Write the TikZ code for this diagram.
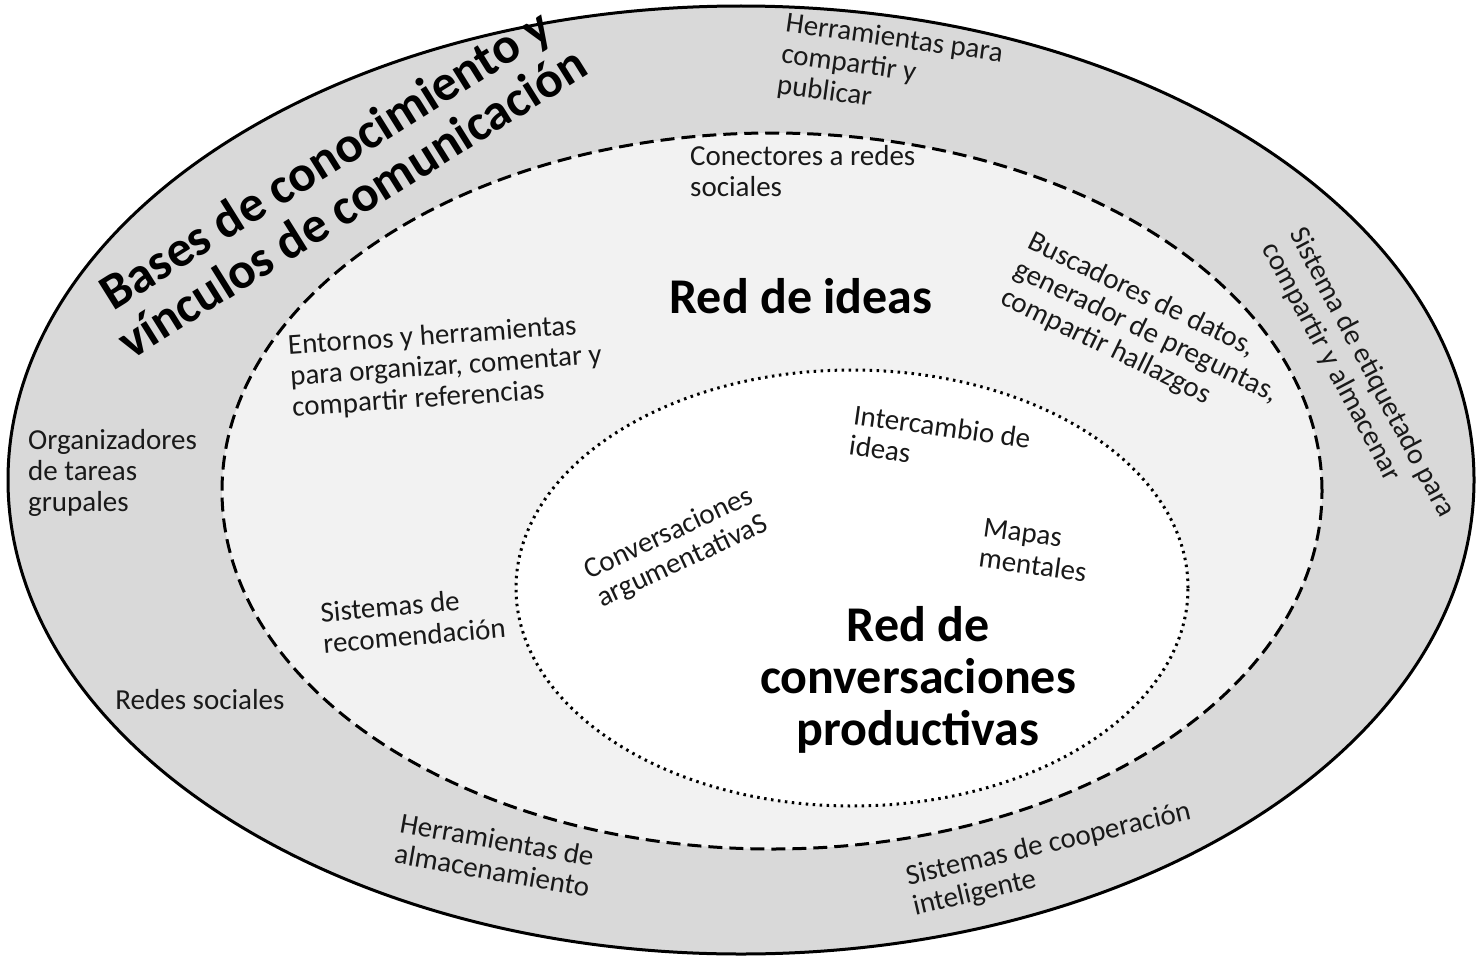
\documentclass[tikz,border=0pt]{standalone}
\usepackage{fontspec}
\setmainfont{Carlito}
\usetikzlibrary{shapes.geometric}

\begin{document}
\begin{tikzpicture}[x=1pt,y=-1pt,
  ring/.style={ellipse,draw=black,inner sep=0pt},
    outer ring/.style={ring,line width=3pt,fill=gray!30,minimum width=1466pt,minimum height=948pt},
    middle ring/.style={ring,line width=3pt,fill=gray!10,dash pattern=on 14pt off 7pt,minimum width=1100pt,minimum height=716pt},
    inner ring/.style={ring,line width=3pt,fill=white,dash pattern=on 2.5pt off 4.5pt,minimum width=672pt,minimum height=436pt},
    tool/.style={font=\fontsize{29}{31}\selectfont,align=left,inner sep=0pt,text=black!90},
    net/.style={font=\fontsize{50}{52}\selectfont\bfseries,align=center,inner sep=0pt},
    banner/.style={font=\fontsize{51}{51}\selectfont\bfseries,align=center,inner sep=0pt},
  ]
  \useasboundingbox (0,0) rectangle (1477,958);

  % rings
  \node[outer ring] (bases) at (741,480) {};
  \node[middle ring] (ideas) at (772,491) {};
  \node[inner ring] (conv) at (852,588) {};

  % outer ring
  \node[banner,rotate=32] (bases-title) at (338,180) {Bases de conocimiento y\\vínculos de comunicación};
  \node[tool,rotate=-8] (bases-publicar) at (890,70) {Herramientas para\\compartir  y\\publicar};
  \node[tool,rotate=-62] (bases-etiquetado) at (1358,380) {Sistema de etiquetado para\\compartir y almacenar};
  \node[tool,anchor=west] (bases-tareas) at (28,473) {Organizadores\\de tareas\\grupales};
  \node[tool] (bases-redes) at (200,700) {Redes sociales};
  \node[tool,rotate=-10] (bases-almacen) at (495,855) {Herramientas de\\almacenamiento};
  \node[tool,rotate=13] (bases-cooperacion) at (1052,860) {Sistemas de cooperación\\inteligente};

  % middle ring
  \node[net] (ideas-title) at (801,296) {Red de ideas};
  \node[tool,anchor=west] (ideas-conectores) at (690,171) {Conectores a redes\\sociales};
  \node[tool,rotate=-26] (ideas-buscadores) at (1146,332) {Buscadores de datos,\\generador de preguntas,\\compartir hallazgos};
  \node[tool,rotate=4] (ideas-entornos) at (446,367) {Entornos y herramientas\\para organizar, comentar  y\\compartir referencias};
  \node[tool,rotate=5] (ideas-recomendacion) at (413,620) {Sistemas de\\recomendación};

  % inner ring
  \node[net] (conv-title) at (918,680) {Red de\\conversaciones\\productivas};
  \node[tool,rotate=-8] (conv-intercambio) at (940,442) {Intercambio de\\ideas};
  \node[tool,rotate=25] (conv-argumentativas) at (676,548) {Conversaciones\\argumentativaS};
  \node[tool,rotate=-8] (conv-mapas) at (1035,550) {Mapas\\mentales};
\end{tikzpicture}
\end{document}
